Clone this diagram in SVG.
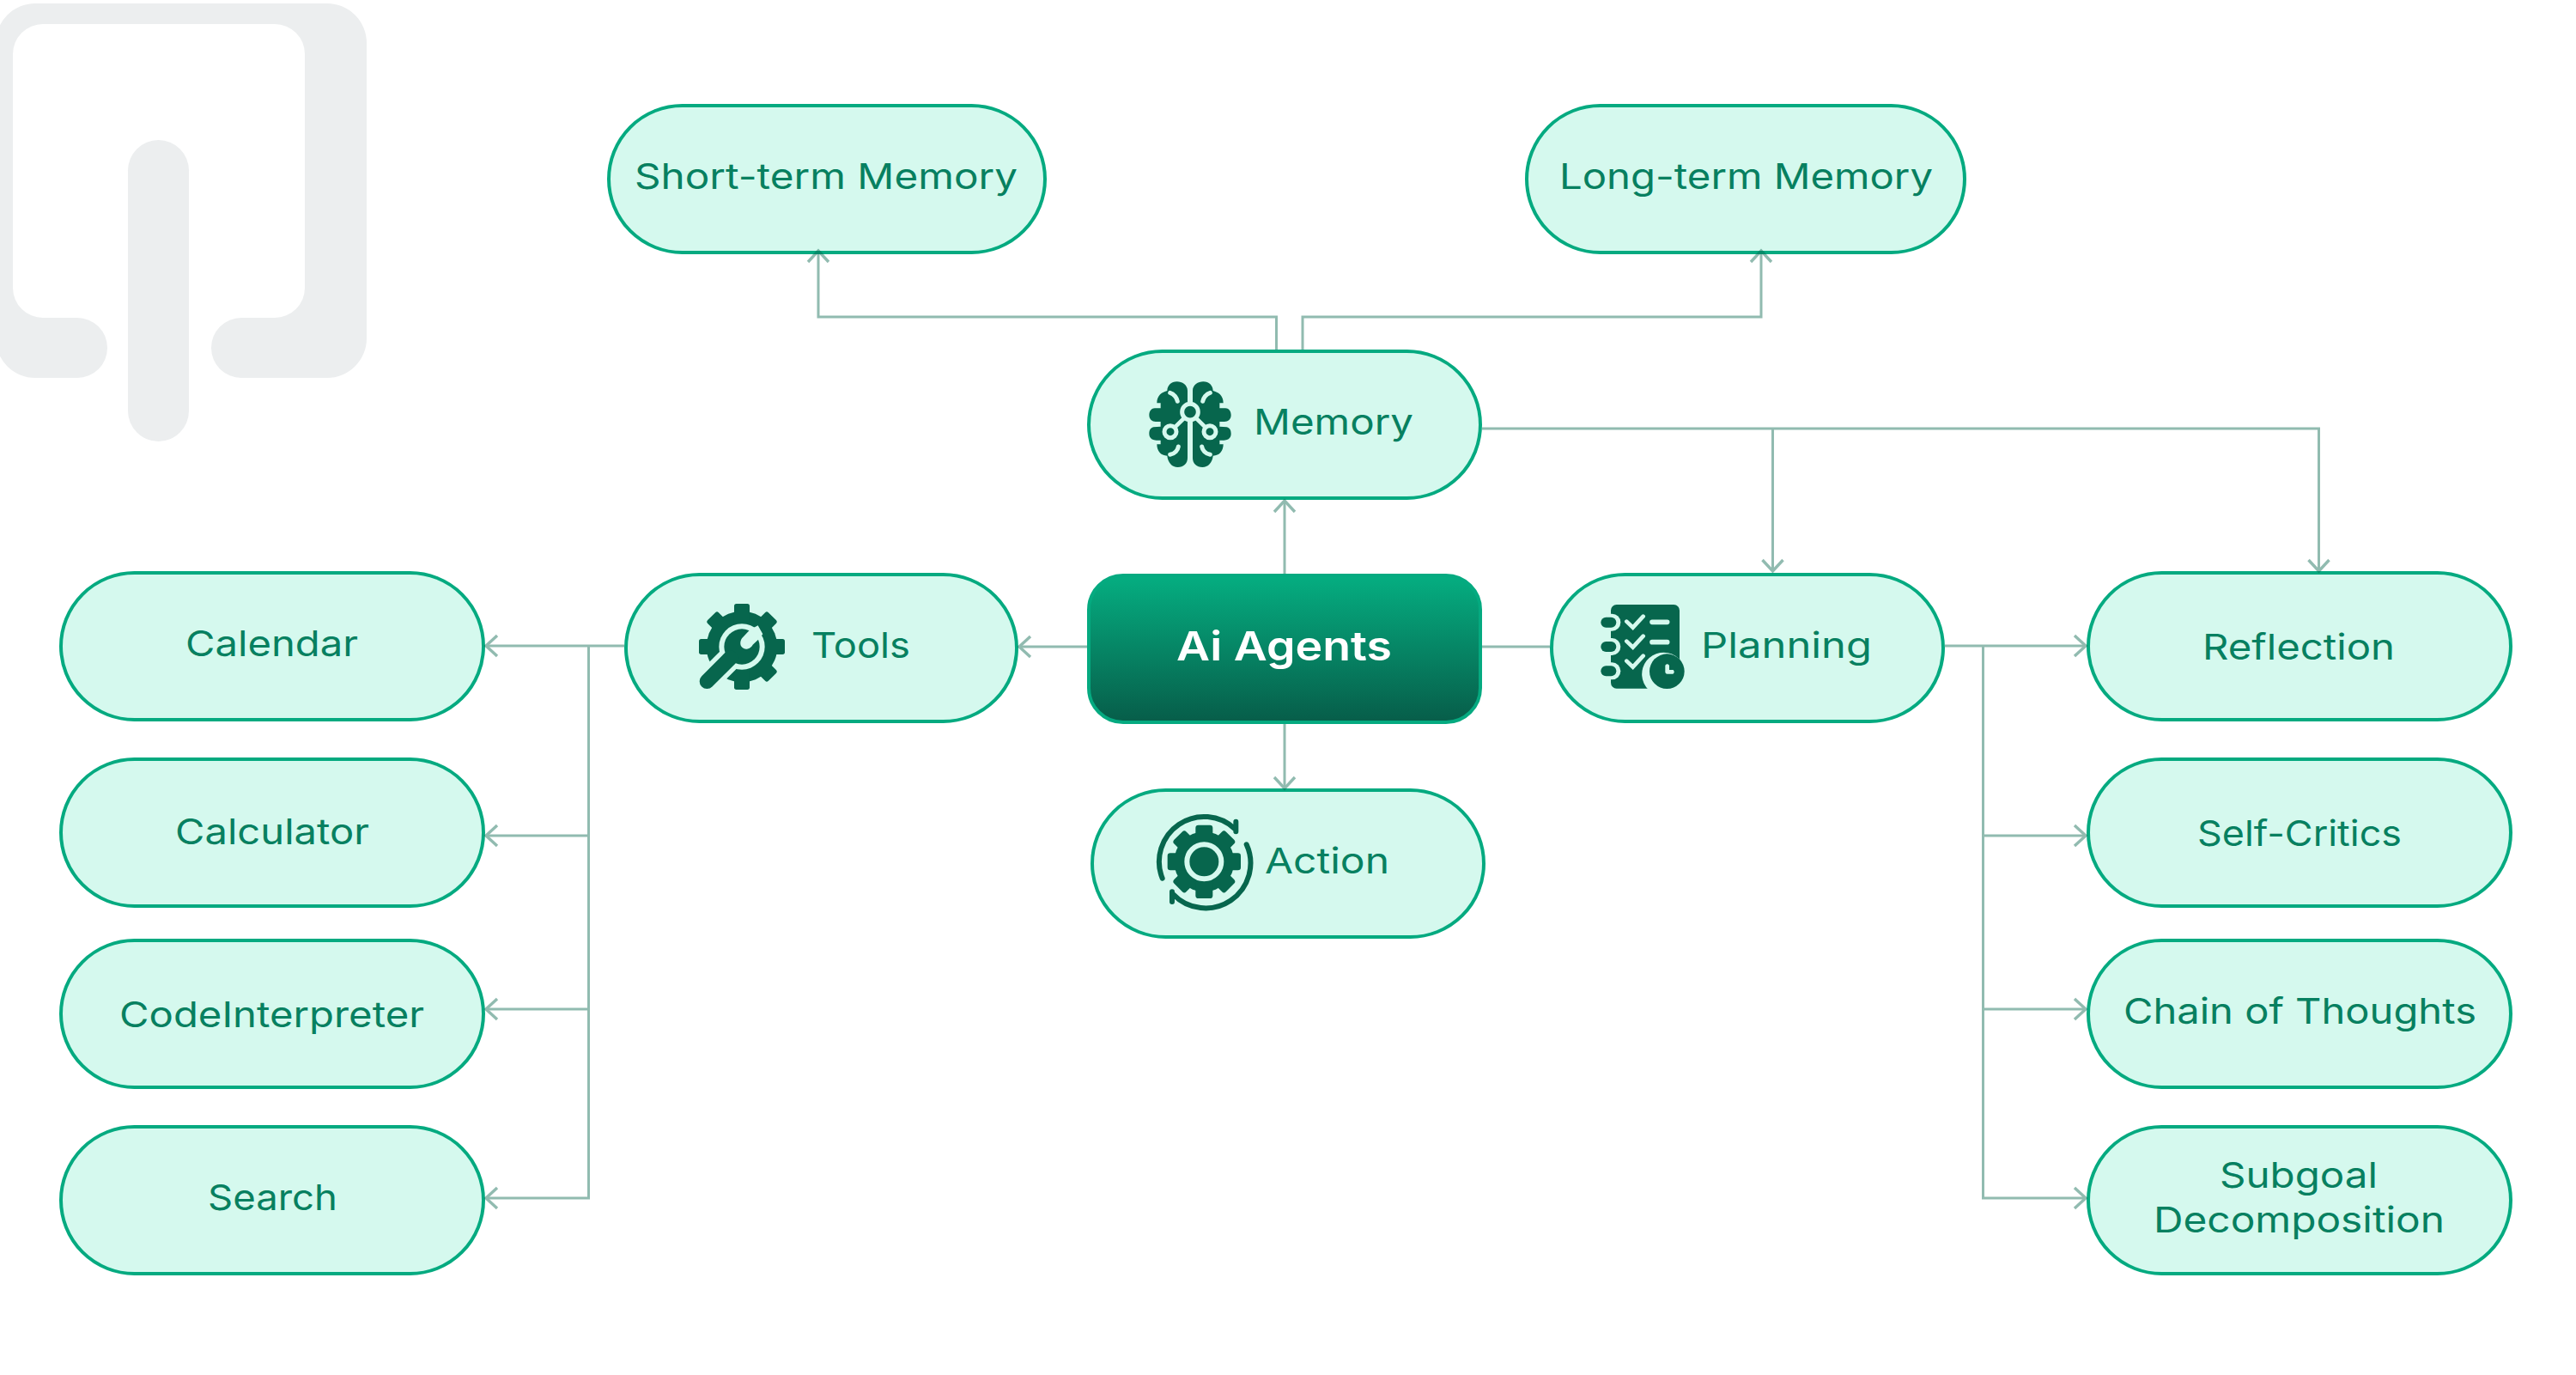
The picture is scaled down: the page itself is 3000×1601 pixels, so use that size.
<svg xmlns="http://www.w3.org/2000/svg" xmlns:xlink="http://www.w3.org/1999/xlink" width="3000" height="1601" viewBox="0 0 3000 1601">
<style>
.n{fill:#d5f9ee;stroke:#05aa80;stroke-width:4}
.t{font-family:Inter,"Open Sans","Liberation Sans",sans-serif;font-size:41px;fill:#078060;letter-spacing:0}
.d{fill:#07664d}
.l{fill:#d5f9ee}
.ls{fill:none;stroke:#d5f9ee;stroke-linecap:round}
.ds{fill:none;stroke:#07664d;stroke-linecap:round}
.c{fill:none;stroke:#07664d;stroke-width:3;stroke-linejoin:miter}
.a{marker-end:url(#arr)}
</style>
<defs>
<linearGradient id="g" x1="0" y1="0" x2="0" y2="1"><stop offset="0" stop-color="#05ae81"/><stop offset="1" stop-color="#075d49"/></linearGradient>
<marker id="arr" markerUnits="userSpaceOnUse" markerWidth="30" markerHeight="34" refX="16" refY="15" orient="auto" overflow="visible">
<path d="M3 3 L16 15 L3 27" fill="none" stroke="#07664d" stroke-width="3.4"/>
</marker>
</defs>
<rect width="3000" height="1601" fill="#fff"/>
<g id="watermark" fill="#eceeef">
<path d="M-5 50 A46 46 0 0 1 41 4 H381 A46 46 0 0 1 427 50 V394 A46 46 0 0 1 381 440 H281 A35 35 0 0 1 281 370 H320 A35 35 0 0 0 355 335 V63 A35 35 0 0 0 320 28 H50 A35 35 0 0 0 15 63 V335 A35 35 0 0 0 50 370 H90 A35 35 0 0 1 90 440 H41 A46 46 0 0 1 -5 394 Z"/>
<rect x="149" y="163" width="71" height="351" rx="35.500"/>
</g>
<g id="node-short-term"><rect class="n" x="709" y="123" width="508" height="171" rx="85.500"/><text class="t" x="739" y="220" textLength="446" lengthAdjust="spacingAndGlyphs">Short-term Memory</text></g>
<g id="node-long-term"><rect class="n" x="1778" y="123" width="510" height="171" rx="85.500"/><text class="t" x="1816" y="220" textLength="435" lengthAdjust="spacingAndGlyphs">Long-term Memory</text></g>
<g id="node-memory"><rect class="n" x="1268" y="409" width="456" height="171" rx="85.500"/>
<g transform="translate(1260,400) scale(.33333)">
<g id="lobe"><path class="d" d="M369 165 C369 145 350 133 332 133 C312 133 298 147 298 165 C280 170 262 180 262 208 L275 208 L275 226 L255 226 C240 226 235 240 235 250 C235 265 245 273 258 273 L275 273 L275 290 L250 292 C238 295 235 305 235 315 C235 330 245 338 260 338 L275 338 L275 352 L262 352 C262 375 275 392 298 392 C300 415 315 432 335 432 C355 432 369 420 369 400 Z"/>
<path class="ls" stroke-width="15" d="M308 172 C322 176 332 190 334 202 M308 388 C325 385 335 372 337 360"/></g>
<use xlink:href="#lobe" href="#lobe" transform="translate(756,0) scale(-1,1)"/>
<path class="ls" stroke-width="14" d="M378 240 L309 308 M378 240 L447 308"/>
<circle class="d" cx="378" cy="239" r="28" style="stroke:#d5f9ee;stroke-width:15"/>
<circle class="d" cx="309" cy="308" r="21" style="stroke:#d5f9ee;stroke-width:15"/>
<circle class="d" cx="447" cy="308" r="21" style="stroke:#d5f9ee;stroke-width:15"/>
</g>
<text class="t" x="1460" y="506" textLength="186" lengthAdjust="spacingAndGlyphs">Memory</text></g>
<g id="node-tools"><rect class="n" x="729" y="669" width="455" height="171" rx="85.500"/>
<g transform="translate(720,660) scale(.33333)">
<g class="d" transform="translate(432,279)">
<circle r="124"/>
<rect x="-27" y="-150" width="54" height="300" rx="8"/>
<rect x="-27" y="-150" width="54" height="300" rx="8" transform="rotate(45)"/>
<rect x="-27" y="-150" width="54" height="300" rx="8" transform="rotate(90)"/>
<rect x="-27" y="-150" width="54" height="300" rx="8" transform="rotate(135)"/>
</g>
<circle class="l" cx="432" cy="279" r="80"/>
<path class="ls" stroke-width="84" d="M310 400 L385 325"/>
<circle class="d" cx="432" cy="279" r="62"/>
<path class="ds" stroke-width="52" d="M310 400 L392 318"/>
<path class="l" d="M460 220 L432 250 C424 262 424 280 440 286 C452 290 465 282 470 272 L494 250 L505 235 L488 205 Z"/>
</g>
<text class="t" x="945" y="766" textLength="115" lengthAdjust="spacingAndGlyphs">Tools</text></g>
<g id="node-ai-agents"><rect x="1268" y="670" width="456" height="171" rx="40" fill="url(#g)" stroke="#05aa80" stroke-width="4"/><text class="t" x="1370" y="769" textLength="251" lengthAdjust="spacingAndGlyphs" style="fill:#fff;font-size:47px;font-weight:600">Ai Agents</text></g>
<g id="node-action"><rect class="n" x="1272" y="920" width="456" height="171" rx="85.500"/>
<g transform="translate(1260,660) scale(.33333)">
<g class="d" transform="translate(427,1030)">
<circle r="105"/>
<rect x="-30" y="-128" width="60" height="256" rx="10"/>
<rect x="-30" y="-128" width="60" height="256" rx="10" transform="rotate(45)"/>
<rect x="-30" y="-128" width="60" height="256" rx="10" transform="rotate(90)"/>
<rect x="-30" y="-128" width="60" height="256" rx="10" transform="rotate(135)"/>
</g>
<circle class="d" cx="427" cy="1030" r="60" style="stroke:#d5f9ee;stroke-width:18"/>
<path class="ds" stroke-width="18" d="M281 1088 A157 157 0 0 1 535 916 M575 970 A157 157 0 0 1 318 1143 M538 890 V925 M315 1135 V1170"/>
</g>
<text class="t" x="1473" y="1017" textLength="145" lengthAdjust="spacingAndGlyphs">Action</text></g>
<g id="node-planning"><rect class="n" x="1807" y="669" width="456" height="171" rx="85.500"/>
<g transform="translate(1780,650) scale(.33333)">
<rect class="d" x="288" y="162" width="240" height="293" rx="20"/>
<rect class="l" x="240" y="194" width="82" height="60" rx="30"/>
<rect class="l" x="240" y="279" width="82" height="60" rx="30"/>
<rect class="l" x="240" y="364" width="82" height="60" rx="30"/>
<rect class="d" x="253" y="206" width="54" height="36" rx="18"/>
<rect class="d" x="253" y="291" width="54" height="36" rx="18"/>
<rect class="d" x="253" y="376" width="54" height="36" rx="18"/>
<path class="ls" stroke-width="14" d="M343 221 L365 242 L401 203 M343 290 L365 311 L401 272 M343 359 L365 380 L401 341"/>
<path class="ls" stroke-width="17" d="M432 223 H485 M432 293 H485"/>
<path class="l" d="M420 460 A76 76 0 1 1 540 440 L540 470 L420 470 Z"/>
<circle class="d" cx="484" cy="395" r="61"/>
<path class="l" d="M478 374 L478 398 Q479 404 485 404 L505 404 Q513 398 506 390 L492 390 L492 374 Q485 366 478 374 Z"/>
</g>
<text class="t" x="1981" y="766" textLength="199" lengthAdjust="spacingAndGlyphs">Planning</text></g>
<g id="node-calendar"><rect class="n" x="71" y="667" width="492" height="171" rx="85.500"/><text class="t" x="216" y="764" textLength="201" lengthAdjust="spacingAndGlyphs">Calendar</text></g>
<g id="node-calculator"><rect class="n" x="71" y="884" width="492" height="171" rx="85.500"/><text class="t" x="204" y="983" textLength="226" lengthAdjust="spacingAndGlyphs">Calculator</text></g>
<g id="node-codeinterpreter"><rect class="n" x="71" y="1095" width="492" height="171" rx="85.500"/><text class="t" x="139" y="1196" textLength="355" lengthAdjust="spacingAndGlyphs">CodeInterpreter</text></g>
<g id="node-search"><rect class="n" x="71" y="1312" width="492" height="171" rx="85.500"/><text class="t" x="242" y="1409" textLength="151" lengthAdjust="spacingAndGlyphs">Search</text></g>
<g id="node-reflection"><rect class="n" x="2432" y="667" width="492" height="171" rx="85.500"/><text class="t" x="2565" y="768" textLength="224" lengthAdjust="spacingAndGlyphs">Reflection</text></g>
<g id="node-self-critics"><rect class="n" x="2432" y="884" width="492" height="171" rx="85.500"/><text class="t" x="2559" y="985" textLength="238" lengthAdjust="spacingAndGlyphs">Self-Critics</text></g>
<g id="node-chain"><rect class="n" x="2432" y="1095" width="492" height="171" rx="85.500"/><text class="t" x="2473" y="1192" textLength="411" lengthAdjust="spacingAndGlyphs">Chain of Thoughts</text></g>
<g id="node-subgoal"><rect class="n" x="2432" y="1312" width="492" height="171" rx="85.500"/><text class="t" x="2585" y="1383" textLength="184" lengthAdjust="spacingAndGlyphs">Subgoal</text><text class="t" x="2508" y="1435" textLength="339" lengthAdjust="spacingAndGlyphs">Decomposition</text></g>
<g id="connectors" opacity=".44">
<path class="c a" d="M1266 753 H1187"/>
<path class="c a" d="M727 752 H566"/>
<path class="c a" d="M685.500 752 V1395 H566"/>
<path class="c a" d="M685.500 973 H566"/>
<path class="c a" d="M685.500 1175 H566"/>
<path class="c" d="M1726 753 H1805"/>
<path class="c a" d="M2265 752 H2429"/>
<path class="c a" d="M2309.500 752 V1395 H2429"/>
<path class="c a" d="M2309.500 973 H2429"/>
<path class="c a" d="M2309.500 1175 H2429"/>
<path class="c a" d="M1496 668 V583"/>
<path class="c a" d="M1496 843 V918"/>
<path class="c a" d="M1486.500 407 V369 H953 V292"/>
<path class="c a" d="M1517 407 V369 H2051 V292"/>
<path class="c a" d="M1726 499 H2700.500 V665"/>
<path class="c a" d="M2064.500 499 V665"/>
</g>
</svg>
